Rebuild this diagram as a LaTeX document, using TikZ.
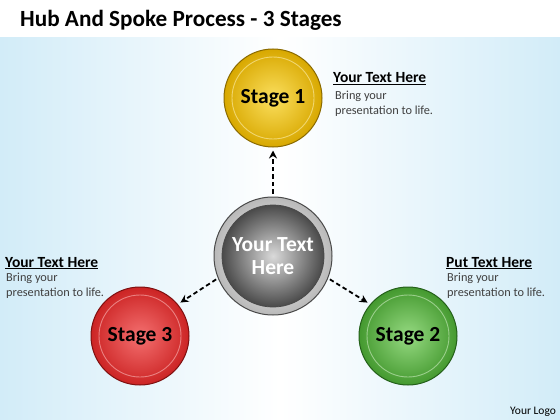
\documentclass[tikz,border=0pt]{standalone}
\usepackage{fontspec}
\setmainfont{Carlito}
\usetikzlibrary{arrows.meta}
\definecolor{bgblue}{HTML}{D2ECF8}
\definecolor{goldE}{HTML}{D8A800}
\definecolor{goldC}{HTML}{FBDF5E}
\definecolor{goldL}{HTML}{8A6A00}
\definecolor{redE}{HTML}{CC2424}
\definecolor{redC}{HTML}{F47070}
\definecolor{redL}{HTML}{7E1010}
\definecolor{grnE}{HTML}{44992F}
\definecolor{grnC}{HTML}{96DA82}
\definecolor{grnL}{HTML}{24601A}
\definecolor{gryE}{HTML}{4A4A4A}
\definecolor{gryC}{HTML}{DADADA}
\tikzset{
  x=1pt,y=-1pt,
  disc/.style={circle, minimum size=98pt, inner sep=0pt, draw=#1L, line width=1pt,
     shading=radial, inner color=#1C, outer color=#1E,
     font=\fontsize{21.5}{22}\selectfont\bfseries, text=black},
  ring/.style={draw=#1C!50!white, line width=0.9pt, opacity=0.6},
  spoke/.style={line width=1.8pt, dash pattern=on 4.5pt off 3pt, -{Stealth[length=8pt,width=8pt]}},
  head/.style={anchor=base west, font=\fontsize{15.5}{16}\selectfont\bfseries, inner sep=0pt},
  body/.style={anchor=north west, align=left, font=\fontsize{12.3}{14.5}\selectfont, text=black!75, inner sep=0pt},
}
\begin{document}
\begin{tikzpicture}
\useasboundingbox (0,0) rectangle (560,420);
% background
\shade[left color=bgblue, right color=bgblue, middle color=white] (0,37) rectangle (560,420);
\fill[white] (0,0) rectangle (560,37);
% title
\node[anchor=base west, inner sep=0pt, font=\fontsize{23.2}{24}\selectfont\bfseries] (title) at (20,27) {Hub And Spoke Process - 3 Stages};
% center hub
\node[circle, minimum size=118pt, inner sep=0pt, draw=gryE, line width=1pt, shading=radial, inner color=white, outer color=gray!55] (hubouter) at (273,256) {};
\node[circle, minimum size=102pt, inner sep=0pt, draw=gryE, line width=0.8pt, shading=radial, inner color=gryC, outer color=gryE,
   text=white, font=\fontsize{21.5}{23}\selectfont\bfseries, align=center] (hub) at (273,256) {Your Text\\Here};
% stages
\node[disc=gold] (s1) at (273,98) {Stage 1};
\draw[ring=gold] (s1.center) circle[radius=41];
\node[disc=red] (s3) at (140,336) {Stage 3};
\draw[ring=red] (s3.center) circle[radius=41];
\node[disc=grn] (s2) at (408,336) {Stage 2};
\draw[ring=grn] (s2.center) circle[radius=41];
% spokes
\draw[spoke, shorten <=3pt, shorten >=3pt] (hubouter.90) -- (s1.270);
\draw[spoke, shorten <=2pt, shorten >=3pt] (hubouter.202) -- (s3.40);
\draw[spoke, shorten <=2pt, shorten >=3pt] (hubouter.-22) -- (s2.140);
% text blocks
\node[head] (h1) at (333,83) {\underline{Your Text Here}};
\node[body] (b1) at (335,91) {Bring your\\presentation to life.};
\node[head] (h3) at (5,267) {\underline{Your Text Here}};
\node[body] (b3) at (6,273) {Bring your\\presentation to life.};
\node[head] (h2) at (446,267) {\underline{Put Text Here}};
\node[body] (b2) at (447,273) {Bring your\\presentation to life.};
\node[anchor=base west, inner sep=0pt, font=\fontsize{11.5}{12}\selectfont] (logo) at (510,414) {Your Logo};
\end{tikzpicture}
\end{document}
